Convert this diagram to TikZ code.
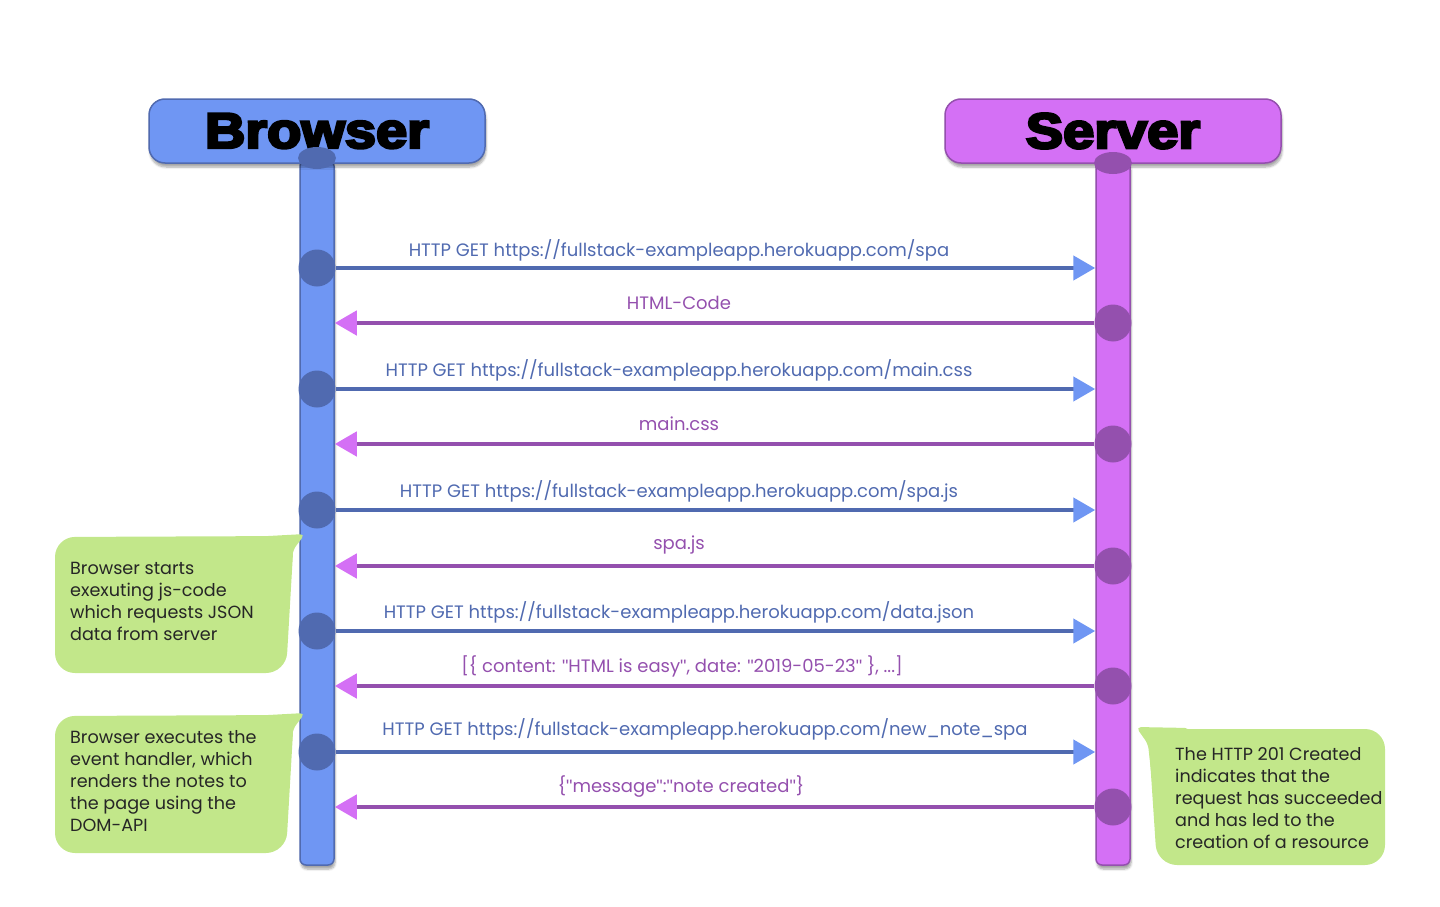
\documentclass[tikz,border=0pt]{standalone}
\usepackage{fontspec}
\setmainfont{Poppins}
\newfontfamily\headfont{Liberation Sans}[BoldFeatures={FakeBold=5}]
\newfontfamily\quotefont{Liberation Sans}
\usetikzlibrary{arrows.meta,shapes.geometric,shadows.blur}
\definecolor{bfill}{RGB}{111,150,243}
\definecolor{bdark}{RGB}{80,106,176}
\definecolor{pfill}{RGB}{212,112,245}
\definecolor{pdark}{RGB}{148,80,174}
\definecolor{nfill}{RGB}{194,231,138}
\newcommand\dq{{\quotefont\char34}}
\newcommand\hdrtext[1]{\scalebox{1.12}[1]{#1}}
\begin{document}
\begin{tikzpicture}[x=1pt,y=-1pt,
  shad/.style={blur shadow={shadow xshift=1pt,shadow yshift=-4pt,shadow blur steps=6,shadow opacity=35}},
  life/.style={rectangle,minimum width=34pt,minimum height=705pt,rounded corners=6pt,line width=1.5pt,inner sep=0pt,shad},
  hdr/.style={rectangle,minimum width=336pt,minimum height=64pt,rounded corners=16pt,line width=1.5pt,inner sep=0pt,shad,font=\headfont\bfseries\fontsize{50}{50}\selectfont},
  topell/.style={ellipse,minimum width=38pt,minimum height=22pt,inner sep=0pt},
  dot/.style={circle,minimum size=37pt,inner sep=0pt},
  req/.style={draw=bdark,line width=4.5pt,-{Triangle[length=22pt,width=24pt,color=bfill]}},
  resp/.style={draw=pdark,line width=4.5pt,-{Triangle[length=22pt,width=24pt,color=pfill]}},
  lab/.style={font=\fontsize{18}{20}\selectfont,inner sep=0pt,text=#1},
  notetext/.style={font=\fontsize{17.6}{22}\selectfont,align=left,inner sep=0pt,anchor=west,text=black!85}
]
\useasboundingbox (0,0) rectangle (1440,907);

% lifelines
\node[life,fill=bfill,draw=bdark] (bl) at (317,512.5) {};
\node[life,fill=pfill,draw=pdark] (sl) at (1113,512.5) {};

% headers
\node[hdr,fill=bfill,draw=bdark] (bh) at (317,131) {\hdrtext{Browser}};
\node[hdr,fill=pfill,draw=pdark] (sh) at (1113,131) {\hdrtext{Server}};
\node[topell,fill=bdark] (btop) at (317,158) {};
\node[topell,fill=pdark] (stop) at (1113,163) {};

% activation dots
\node[dot,fill=bdark] (b1) at (317,268) {};
\node[dot,fill=pdark] (s2) at (1113,323) {};
\node[dot,fill=bdark] (b3) at (317,389) {};
\node[dot,fill=pdark] (s4) at (1113,444) {};
\node[dot,fill=bdark] (b5) at (317,510) {};
\node[dot,fill=pdark] (s6) at (1113,566) {};
\node[dot,fill=bdark] (b7) at (317,631) {};
\node[dot,fill=pdark] (s8) at (1113,686) {};
\node[dot,fill=bdark] (b9) at (317,752) {};
\node[dot,fill=pdark] (s10) at (1113,807) {};

% messages
\draw[req] (b1) -- (b1 -| sl.west);
\draw[resp] (s2) -- (s2 -| bl.east);
\draw[req] (b3) -- (b3 -| sl.west);
\draw[resp] (s4) -- (s4 -| bl.east);
\draw[req] (b5) -- (b5 -| sl.west);
\draw[resp] (s6) -- (s6 -| bl.east);
\draw[req] (b7) -- (b7 -| sl.west);
\draw[resp] (s8) -- (s8 -| bl.east);
\draw[req] (b9) -- (b9 -| sl.west);
\draw[resp] (s10) -- (s10 -| bl.east);

% labels
\node[lab=bdark] (l1) at (679,250) {HTTP GET https://fullstack-exampleapp.herokuapp.com/spa};
\node[lab=pdark] (l2) at (679,303) {HTML-Code};
\node[lab=bdark] (l3) at (679,370) {HTTP GET https://fullstack-exampleapp.herokuapp.com/main.css};
\node[lab=pdark] (l4) at (679,424) {main.css};
\node[lab=bdark] (l5) at (679,491) {HTTP GET https://fullstack-exampleapp.herokuapp.com/spa.js};
\node[lab=pdark] (l6) at (679,545) {spa.js};
\node[lab=bdark] (l7) at (679,612) {HTTP GET https://fullstack-exampleapp.herokuapp.com/data.json};
\node[lab=pdark] (l8) at (682,666) {[\{ content: \dq HTML is easy\dq, date: \dq 2019-05-23\dq\ \}, ...]};
\node[lab=bdark] (l9) at (705,729) {HTTP GET https://fullstack-exampleapp.herokuapp.com/new\_note\_spa};
\node[lab=pdark] (l10) at (681,787) {\{\dq message\dq:\dq note created\dq\}};

% notes
\fill[nfill,rounded corners=20pt] (55,537) -- (294,536) -- (286,673) -- (55,673) -- cycle;
\fill[nfill,rounded corners=5pt] (250,537) -- (305,534) -- (293,550) -- (289,600) -- (250,600) -- cycle;
\node[notetext] (n1) at (70,601) {Browser starts\\exexuting js-code\\which requests JSON\\data from server};

\fill[nfill,rounded corners=20pt] (55,716) -- (294,715) -- (286,853) -- (55,853) -- cycle;
\fill[nfill,rounded corners=5pt] (250,716) -- (305,713) -- (293,729) -- (289,780) -- (250,780) -- cycle;
\node[notetext] (n2) at (70,781) {Browser executes the\\event handler, which\\renders the notes to\\the page using the\\DOM-API};

\fill[nfill,rounded corners=20pt] (1148,729) -- (1385,729) -- (1385,865) -- (1157,865) -- cycle;
\fill[nfill,rounded corners=5pt] (1136,727) -- (1190,728) -- (1190,790) -- (1153,790) -- (1148,744) -- cycle;
\node[notetext] (n3) at (1175,798) {The HTTP 201 Created\\indicates that the\\request has succeeded\\and has led to the\\creation of a resource};
\end{tikzpicture}
\end{document}
